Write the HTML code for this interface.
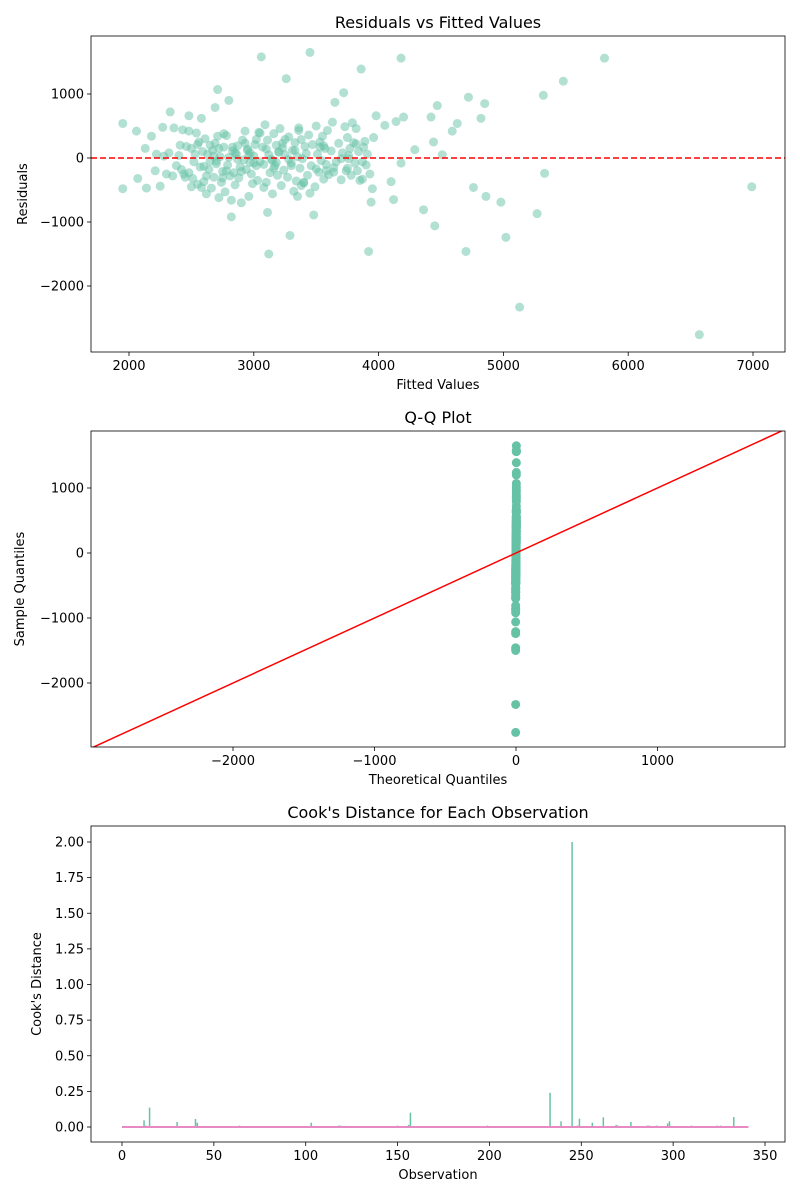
<!DOCTYPE html>
<html><head><meta charset="utf-8">
<style>
html,body{margin:0;padding:0;background:#fff;}
svg{display:block;font-family:"DejaVu Sans","Liberation Sans",sans-serif;}
</style></head>
<body>
<svg id="chart" width="800" height="1200" viewBox="0 0 800 1200" xmlns="http://www.w3.org/2000/svg">
<defs><clipPath id="qqclip"><rect x="91" y="431" width="694" height="316"/></clipPath></defs>
</svg>
<script>
// ---- data ----
const fitted = [1950,1950,2060,2070,2140,2130,2180,2210,2220,2270,2330,2360,2430,2500,2480,2580,2690,2800,2440,2710,3060,3450,4180,5810,3260,3860,5480,5320,4720,3720,
6990,6570,5130,3120,3920,4700,3290,5020,4450,5270,4360,3480,2820,3110,4980,4860,4760,5330,4820,4850,4630,4590,4510,4470,4420,4290,4440,4200,4140,4050,3980,4120,4100,4180,3940,
2250,2280,2300,2320,2350,2380,2400,2410,2420,2450,2460,2480,2500,2510,2520,2540,2550,2560,2570,2590,2600,2610,2620,2630,2640,2650,2660,2670,2680,2690,2700,2710,2720,2730,2740,2750,2760,2770,2780,2790,2800,2810,2820,2830,2840,2850,2860,2870,2880,2890,2900,2910,2920,2930,2940,2950,2960,2970,2980,2990,3000,3010,3020,3030,3040,3050,3070,3080,3090,3100,3110,3130,3140,3150,3160,3170,3180,3190,3200,3210,3220,3230,3240,3250,3270,3280,3300,3310,3320,3330,3340,3350,3360,3370,3380,3390,3400,3410,3420,3430,3440,3460,3470,3490,3500,3510,3520,3530,3540,3550,3560,3570,3580,3590,3600,3620,3630,3640,3650,3660,3680,3700,3710,3730,3740,3750,3760,3770,3780,3790,3800,3810,3820,3830,3840,3850,3870,3880,3890,3900,3910,3930,3950,3960,
2600,2650,2700,2750,2850,2900,2950,3000,3050,3100,3150,3200,3250,3300,3350,3400,3450,3500,2580,2620,2680,2720,2780,2830,2870,2930,2970,3020,3080,3120,3180,3230,3280,3330,3380,3530,3580,3640,3700,3760,3820,3870,2550,2760,2960,3160,3360,3560,3750,2480,2530,3060,3260,3460,3660];
const residuals = [540,-480,420,-320,-470,150,340,-200,60,480,720,470,440,-450,660,620,790,900,-250,1070,1580,1650,1560,1560,1240,1390,1200,980,950,1020,
-450,-2760,-2330,-1500,-1460,-1460,-1210,-1240,-1060,-870,-810,-890,-920,-850,-690,-600,-460,-240,620,850,540,420,50,820,640,130,250,640,570,510,660,-650,-370,-80,-690,
-440,30,-250,80,-280,-120,40,200,-180,-300,180,-230,150,-320,-60,390,-410,250,-140,100,-370,300,-560,60,-180,-50,-470,120,-300,230,-90,340,-620,20,-380,-210,170,-530,350,-110,10,-280,-660,110,-230,-420,60,190,-310,-140,-700,280,-30,420,-180,140,-600,80,-250,-400,30,210,-120,-350,400,-60,170,-460,520,-380,280,-230,-20,-560,380,-120,200,-270,90,460,-430,160,-190,50,-300,330,-80,120,-520,240,-360,20,430,-160,290,-10,-390,180,70,-270,360,-120,210,-450,500,60,-220,250,-40,340,-330,150,-100,430,-260,110,560,-150,870,-60,230,-340,80,490,-200,320,-10,150,-270,550,240,-80,460,-200,100,-350,-60,170,260,-110,
60,-250,-480,320,-130,200,-50,-310,80,-210,120,-80,390,140,-40,100,290,-120,-600,-380,-550,-170,-460,-280,30,150,-200,170,-20,230,-70,290,-100,50,-70,230,-20,120,-430,170,-200,-220,-10,40,220,-330,210,380,40,-160,470,190,-160,420,60];
const cookObs = [12,13,15,30,40,41,51,55,64,102,103,118,119,121,150,156,157,161,163,176,198,199,216,233,239,245,248,249,252,256,262,269,270,277,286,287,291,297,298,310,324,326,333];
const cookVals = [0.047,0.01,0.136,0.035,0.056,0.03,0.005,0.004,0.01,0.005,0.03,0.01,0.01,0.008,0.01,0.015,0.1,0.005,0.005,0.005,0.005,0.01,0.005,0.24,0.04,2.0,0.01,0.058,0.005,0.03,0.068,0.015,0.01,0.035,0.01,0.01,0.01,0.025,0.04,0.01,0.01,0.01,0.07];
const nObs = 341;
const x1Ticks = [2000,3000,4000,5000,6000,7000];
const y1Ticks = [-2000,-1000,0,1000];
const x2Ticks = [-2000,-1000,0,1000];
const y2Ticks = [-2000,-1000,0,1000];
const x3Ticks = [0,50,100,150,200,250,300,350];
const y3Ticks = [0,0.25,0.5,0.75,1.0,1.25,1.5,1.75,2.0];

// ---- helpers ----
const svg = document.getElementById('chart');
const NS = 'http://www.w3.org/2000/svg';
function mk(tag, attrs, parent){const e=document.createElementNS(NS,tag);for(const k in attrs)e.setAttribute(k,attrs[k]);(parent||svg).appendChild(e);return e;}
function lin(d0,d1,r0,r1){return v=>r0+(v-d0)*(r1-r0)/(d1-d0);}

function axes(name, L,T,R,B, xs, ys, xt, yt, xfmt, yfmt, title, xl, yl, yoff){
  const g = mk('g',{});
  
  
  const t = mk('text',{x:(L+R)/2,y:T-8,'text-anchor':'middle','font-size':16},g);
  t.textContent=title;
  
  
  xt.forEach(v=>{const x=xs(v);mk('line',{x1:x,x2:x,y1:B,y2:B+4,stroke:'#000','stroke-width':0.8},g);
    const tx=mk('text',{x:x,y:B+18,'text-anchor':'middle','font-size':13},g);tx.textContent=xfmt(v);
    
    });
  yt.forEach(v=>{const y=ys(v);mk('line',{x1:L-4,x2:L,y1:y,y2:y,stroke:'#000','stroke-width':0.8},g);
    const ty=mk('text',{x:L-7,y:y+4.5,'text-anchor':'end','font-size':13},g);ty.textContent=yfmt(v);
    
    });
  const xlab=mk('text',{x:(L+R)/2,y:B+37,'text-anchor':'middle','font-size':13},g);xlab.textContent=xl;
  
  
  const yx=L-yoff;
  const ylab=mk('text',{x:yx,y:(T+B)/2,'text-anchor':'middle','font-size':13,transform:`rotate(-90 ${yx} ${(T+B)/2})`},g);ylab.textContent=yl;
  
  
  return g;
}
function frame(L,T,R,B){mk('rect',{x:L,y:T,width:R-L,height:B-T,fill:'none',stroke:'#000','stroke-width':0.8});}
const fmtInt = v => v<0 ? '\u2212'+Math.abs(v) : String(v);
const fmt2 = v => v.toFixed(2);
const nPts = Math.min(fitted.length, residuals.length);

// ---- plot 1 ----
{
const L=91,T=36,R=785,B=352;
const xs=lin(2000,7000,129,753), ys=lin(0,1000,158,94);
axes('residuals-vs-fitted',L,T,R,B,xs,ys,x1Ticks,y1Ticks,fmtInt,fmtInt,'Residuals vs Fitted Values','Fitted Values','Residuals',64);
const g=mk('g',{});


for(let i=0;i<nPts;i++){const c=mk('circle',{cx:xs(fitted[i]),cy:ys(residuals[i]),r:4.5,fill:'#66c2a5','fill-opacity':0.5},g);
  
  }
const zl=mk('line',{x1:L,x2:R,y1:ys(0),y2:ys(0),stroke:'#ff0000','stroke-width':1.5,'stroke-dasharray':'6,3'});


frame(L,T,R,B);
}
// ---- plot 2 ----
{
const L=91,T=431,R=785,B=747;
const xs=lin(0,1000,516,657.5), ys=lin(0,1000,553,488);
axes('qq-plot',L,T,R,B,xs,ys,x2Ticks,y2Ticks,fmtInt,fmtInt,'Q-Q Plot','Theoretical Quantiles','Sample Quantiles',67);
const sorted=residuals.slice(0,nPts).sort((a,b)=>a-b);
const g=mk('g',{'clip-path':'url(#qqclip)'});


sorted.forEach((v,i)=>{const q=(i/(sorted.length-1)-0.5)*5;
  const c=mk('circle',{cx:xs(q),cy:ys(v),r:4.5,fill:'#66c2a5'},g);
  
  });
const lo=(L-516)/141.5*1000, hi=(R-516)/141.5*1000;
const rl=mk('line',{x1:xs(lo),y1:ys(lo),x2:xs(hi),y2:ys(hi),stroke:'#ff0000','stroke-width':1.5,'clip-path':'url(#qqclip)'});


frame(L,T,R,B);
}
// ---- plot 3 ----
{
const L=91,T=826,R=785,B=1142;
const xs=lin(0,350,122,765), ys=lin(0,2,1127,842);
axes('cooks-distance',L,T,R,B,xs,ys,x3Ticks,y3Ticks,String,fmt2,"Cook's Distance for Each Observation",'Observation',"Cook's Distance",50);
const g=mk('g',{});


cookObs.forEach((o,i)=>{const s=mk('line',{x1:xs(o),x2:xs(o),y1:ys(0),y2:ys(cookVals[i]),stroke:'#66c2a5','stroke-width':1.5},g);
  
  });
const bl=mk('line',{x1:xs(0),x2:xs(nObs),y1:ys(0),y2:ys(0),stroke:'#e78ac3','stroke-width':2});


frame(L,T,R,B);
}
</script>
</body></html>
